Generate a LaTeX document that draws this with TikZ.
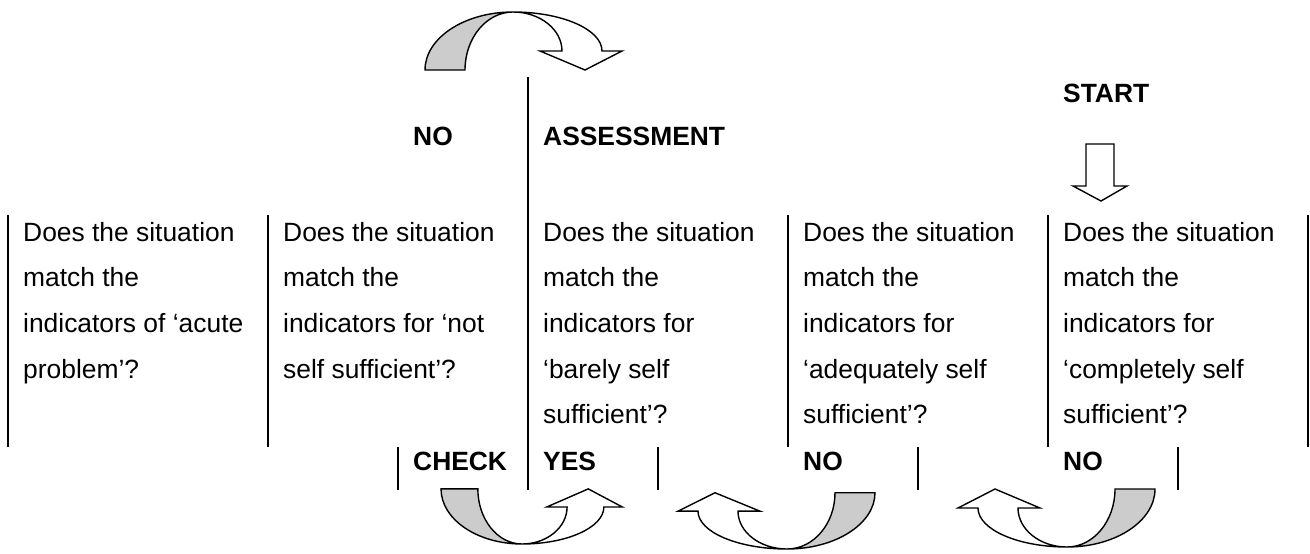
\documentclass[tikz,border=0pt]{standalone}
\usepackage{fontspec}
\setmainfont{Liberation Sans}
\usepackage{tikz}
\usetikzlibrary{positioning}
\definecolor{mydark}{RGB}{0,0,0}
\definecolor{backgrey}{RGB}{204,204,204}
\tikzset{
  coltext/.style={anchor=north west, inner sep=0pt, align=left,
    font=\fontsize{26.4}{45.6}\selectfont},
  tag/.style={anchor=base west, inner sep=0pt,
    font=\fontsize{26.4}{30}\selectfont\bfseries},
  bar/.style={line width=2pt, color=mydark},
  shapeline/.style={draw=mydark, line width=1.4pt, line join=miter},
  uturn/.pic={
    % back half of the band
    \path[shapeline, fill=backgrey]
      (-88,58) .. controls (-88,26) and (-48.6,0) .. (0,0)
      .. controls (-26.5,0) and (-48,26) .. (-48,58) -- cycle;
    % front half with the head
    \path[shapeline, fill=white]
      (0,0) .. controls (49,0) and (89,17.5) .. (89,39)
      -- (109,39) -- (72,58) -- (27,39) -- (49,39)
      .. controls (49,17.5) and (27,0) .. (0,0) -- cycle;
  }
}
\begin{document}
\begin{tikzpicture}[x=1pt, y=-1pt]
  \useasboundingbox (0,0) rectangle (1310,554);

  % Headings
  \node[tag] (no) at (413,145) {NO};
  \node[tag] (assess) at (543,145) {ASSESSMENT};
  \node[tag] (start) at (1063,102) {START};

  % Question columns
  \node[coltext] (acute) at (23,222) {Does the situation\\match the\\indicators of ‘acute\\problem’?};
  \node[coltext] (notself) at (283,222) {Does the situation\\match the\\indicators for ‘not\\self sufficient’?};
  \node[coltext] (barely) at (543,222) {Does the situation\\match the\\indicators for\\‘barely self\\sufficient’?};
  \node[coltext] (adequate) at (803,222) {Does the situation\\match the\\indicators for\\‘adequately self\\sufficient’?};
  \node[coltext] (complete) at (1063,222) {Does the situation\\match the\\indicators for\\‘completely self\\sufficient’?};

  % Answers
  \node[tag] (check) at (413,470) {CHECK};
  \node[tag] (yes) at (543,470) {YES};
  \node[tag] (noadeq) at (803,470) {NO};
  \node[tag] (nocompl) at (1063,470) {NO};

  % Column rules
  \foreach \x in {8,268,788,1048,1308}
    \draw[bar] (\x,215) -- (\x,447);
  \foreach \x in {398,658,918,1178}
    \draw[bar] (\x,447) -- (\x,490);
  \draw[bar] (528,77) -- (528,490);

  % Start arrow
  \draw[shapeline, fill=white] (1086,144) -- (1114,144) -- (1114,186) -- (1127,186)
    -- (1101,201) -- (1073,186) -- (1086,186) -- cycle;

  % Curved arrows
  \pic at (513,12) {uturn};
  \pic[xscale=0.92, yscale=-0.95] at (522,544) {uturn};
  \pic[xscale=-1, yscale=-0.97] at (787,549) {uturn};
  \pic[xscale=-1, yscale=-1] at (1067,547) {uturn};
\end{tikzpicture}
\end{document}
